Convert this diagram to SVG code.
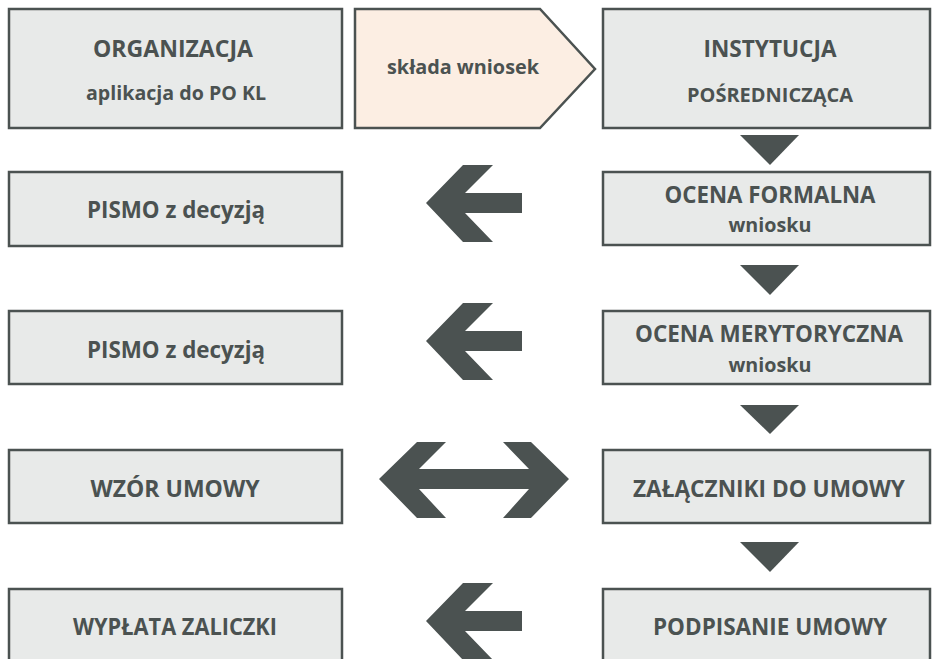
<svg xmlns="http://www.w3.org/2000/svg" width="932" height="659" viewBox="0 0 932 659">
<style>
.box{fill:#E8EAE9;stroke:#4B5251;stroke-width:2.5}
.pent{fill:#FCEEE3;stroke:#4B5251;stroke-width:2.5}
.arr{fill:#4B5251}
text{font-family:"Open Sans","Liberation Sans",sans-serif;font-weight:700;fill:#4B5251;text-anchor:middle}
.t{font-size:22.5px}
.s{font-size:20px}
.xs{font-size:19px}
</style>
<rect width="932" height="659" fill="#FFFFFF"/>
<g id="connectors">
<polygon class="arr" points="740,135 799,135 770,165"/>
<polygon class="arr" points="740,265 799,265 770,295"/>
<polygon class="arr" points="740,405 799,405 770,434"/>
<polygon class="arr" points="740,542 799,542 770,572"/>
<polygon class="arr" points="426,203 463,165 493,165 465,193 522,193 522,213 465,213 493,242 463,242"/>
<polygon class="arr" points="426,341 463,303 493,303 465,331 522,331 522,351 465,351 493,380 463,380"/>
<polygon class="arr" points="379,479 417,442 446,442 419,469 529,469 503,442 531,442 569,479 531,518 503,518 529,489 419,489 446,518 417,518"/>
<polygon class="arr" points="426,621 463,583 493,583 465,611 522,611 522,631 465,631 493,660 463,660"/>
</g>
<g id="organizacja"><rect class="box" x="9" y="9" width="333" height="119"/><text class="t" x="173" y="57" textLength="160" lengthAdjust="spacingAndGlyphs">ORGANIZACJA</text><text class="s" x="176" y="100" textLength="180" lengthAdjust="spacingAndGlyphs">aplikacja do PO KL</text></g>
<g id="sklada"><polygon class="pent" points="355,9 540,9 595,69 540,128 355,128"/><text class="s" x="463" y="74" textLength="152" lengthAdjust="spacingAndGlyphs">składa wniosek</text></g>
<g id="instytucja"><rect class="box" x="603" y="9" width="327" height="119"/><text class="t" x="770" y="57" textLength="133" lengthAdjust="spacingAndGlyphs">INSTYTUCJA</text><text class="xs" x="770" y="102" textLength="166" lengthAdjust="spacingAndGlyphs">POŚREDNICZĄCA</text></g>
<g id="ocena-formalna"><rect class="box" x="603" y="172" width="327" height="73"/><text class="t" x="770" y="203" textLength="211" lengthAdjust="spacingAndGlyphs">OCENA FORMALNA</text><text class="xs" x="770" y="232" textLength="83" lengthAdjust="spacingAndGlyphs">wniosku</text></g>
<g id="ocena-merytoryczna"><rect class="box" x="603" y="311" width="327" height="73"/><text class="t" x="769" y="342" textLength="268" lengthAdjust="spacingAndGlyphs">OCENA MERYTORYCZNA</text><text class="xs" x="770" y="372" textLength="83" lengthAdjust="spacingAndGlyphs">wniosku</text></g>
<g id="zalaczniki"><rect class="box" x="603" y="450" width="327" height="73"/><text class="t" x="769" y="497" textLength="272" lengthAdjust="spacingAndGlyphs">ZAŁĄCZNIKI DO UMOWY</text></g>
<g id="podpisanie"><rect class="box" x="603" y="589" width="327" height="80"/><text class="t" x="770" y="635" textLength="234" lengthAdjust="spacingAndGlyphs">PODPISANIE UMOWY</text></g>
<g id="pismo1"><rect class="box" x="9" y="172" width="333" height="74"/><text class="t" x="176" y="218" textLength="178" lengthAdjust="spacingAndGlyphs">PISMO z decyzją</text></g>
<g id="pismo2"><rect class="box" x="9" y="311" width="333" height="73"/><text class="t" x="176" y="358" textLength="178" lengthAdjust="spacingAndGlyphs">PISMO z decyzją</text></g>
<g id="wzor"><rect class="box" x="9" y="450" width="333" height="73"/><text class="t" x="175" y="497" textLength="169" lengthAdjust="spacingAndGlyphs">WZÓR UMOWY</text></g>
<g id="wyplata"><rect class="box" x="9" y="589" width="333" height="80"/><text class="t" x="175" y="635" textLength="204" lengthAdjust="spacingAndGlyphs">WYPŁATA ZALICZKI</text></g>
</svg>
